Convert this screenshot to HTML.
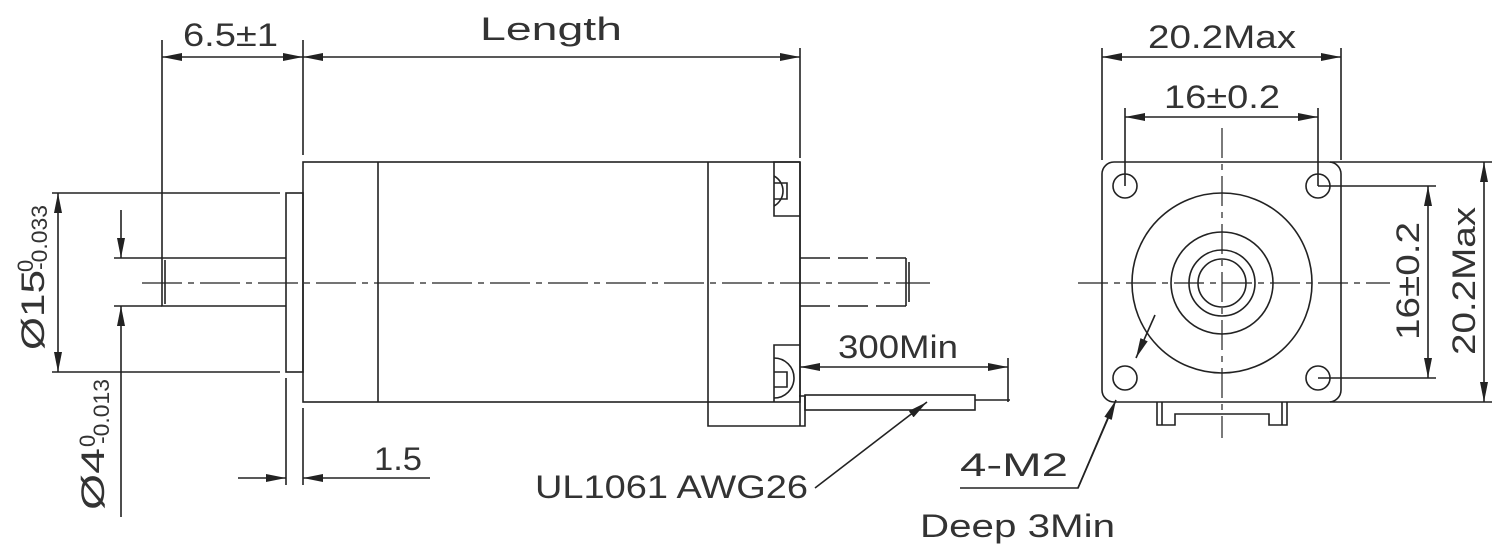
<!DOCTYPE html>
<html><head><meta charset="utf-8"><style>html,body{margin:0;padding:0;background:#fff}svg{display:block}</style></head><body>
<svg width="1500" height="559" viewBox="0 0 1500 559" xmlns="http://www.w3.org/2000/svg">
<defs>
<marker id="a" viewBox="0 0 20 8" refX="20" refY="4" markerWidth="20" markerHeight="8" markerUnits="userSpaceOnUse" orient="auto-start-reverse"><path d="M0,0 L20,4 L0,8 z" fill="#222"/></marker>
</defs>
<g stroke="#222" stroke-width="1.6" fill="none">
<!-- left view body -->
<rect x="303" y="162" width="497" height="240"/>
<line x1="378" y1="162" x2="378" y2="402"/>
<polyline points="708,162 708,426 805,426 805,396 799,396"/>
<line x1="800" y1="162" x2="800" y2="426"/>
<!-- screw pockets -->
<path d="M800,162 L774,162 L774,216 L800,216"/>
<path d="M774,176 A17,17 0 0 1 774,206 M774,183 L787,183 L787,199 L774,199"/>
<path d="M800,345 L774,345 L774,402"/>
<path d="M774,358 A17,17 0 0 1 774,398 M774,372 L787,372 L787,387 L774,387"/>
<!-- flange -->
<rect x="286" y="193" width="17" height="179"/>
<!-- shaft -->
<polyline points="286,258 162,258 162,306 286,306"/>
<line x1="165" y1="260" x2="165" y2="304"/>
<!-- rear shaft dashed -->
<g stroke-dasharray="30,8">
<line x1="800" y1="258" x2="906" y2="258"/>
<line x1="800" y1="306" x2="906" y2="306"/>
</g>
<path d="M906,258 L906,306 M909,262 L909,302"/>
<!-- centerline -->
<line x1="142" y1="283" x2="930" y2="283" stroke-dasharray="40,6,6,6" stroke-width="1.2"/>
<!-- cable -->
<rect x="805" y="395" width="170" height="15"/>
<line x1="975" y1="400" x2="1010" y2="400"/>
<line x1="1008" y1="358" x2="1008" y2="402"/>
<line x1="800" y1="367" x2="1008" y2="367" marker-start="url(#a)" marker-end="url(#a)"/>
<!-- top dims -->
<line x1="162" y1="40" x2="162" y2="258"/>
<line x1="303" y1="40" x2="303" y2="155"/>
<line x1="800" y1="48" x2="800" y2="158"/>
<line x1="162" y1="57" x2="303" y2="57" marker-start="url(#a)" marker-end="url(#a)"/>
<line x1="303" y1="57" x2="800" y2="57" marker-start="url(#a)" marker-end="url(#a)"/>
<!-- Ø15 -->
<line x1="52" y1="193" x2="280" y2="193"/>
<line x1="52" y1="372" x2="280" y2="372"/>
<line x1="58" y1="193" x2="58" y2="372" marker-start="url(#a)" marker-end="url(#a)"/>
<!-- Ø4 -->
<line x1="114" y1="258" x2="162" y2="258"/>
<line x1="114" y1="306" x2="162" y2="306"/>
<line x1="121" y1="210" x2="121" y2="258" marker-end="url(#a)"/>
<line x1="121" y1="517" x2="121" y2="306" marker-end="url(#a)"/>
<!-- 1.5 -->
<line x1="286" y1="378" x2="286" y2="485"/>
<line x1="303" y1="408" x2="303" y2="485"/>
<line x1="238" y1="478" x2="286" y2="478" marker-end="url(#a)"/>
<line x1="430" y1="478" x2="303" y2="478" marker-end="url(#a)"/>
<!-- UL leader -->
<line x1="815" y1="488" x2="927" y2="402" marker-end="url(#a)"/>
<!-- right view -->
<rect x="1102" y="162" width="239" height="240" rx="12"/>
<circle cx="1125" cy="186" r="12"/><circle cx="1318" cy="186" r="12"/>
<circle cx="1125" cy="378" r="12"/><circle cx="1318" cy="378" r="12"/>
<circle cx="1222" cy="283" r="90"/><circle cx="1222" cy="283" r="51"/>
<circle cx="1222" cy="283" r="33"/><circle cx="1222" cy="283" r="24"/>
<path d="M1157,402 L1157,425 L1175,425 L1175,414 L1269,414 L1269,425 L1287,425 L1287,402 M1162,402 L1162,425 M1282,402 L1282,425"/>
<g stroke-dasharray="30,6,6,6" stroke-width="1.2">
<line x1="1078" y1="283" x2="1390" y2="283"/>
<line x1="1222" y1="128" x2="1222" y2="438"/>
</g>
<!-- right dims -->
<line x1="1102" y1="48" x2="1102" y2="160"/>
<line x1="1341" y1="48" x2="1341" y2="160"/>
<line x1="1102" y1="57" x2="1341" y2="57" marker-start="url(#a)" marker-end="url(#a)"/>
<line x1="1125" y1="108" x2="1125" y2="186"/>
<line x1="1318" y1="108" x2="1318" y2="186"/>
<line x1="1125" y1="117" x2="1318" y2="117" marker-start="url(#a)" marker-end="url(#a)"/>
<line x1="1318" y1="186" x2="1436" y2="186"/>
<line x1="1318" y1="378" x2="1436" y2="378"/>
<line x1="1428" y1="186" x2="1428" y2="378" marker-start="url(#a)" marker-end="url(#a)"/>
<line x1="1330" y1="162" x2="1492" y2="162"/>
<line x1="1330" y1="402" x2="1492" y2="402"/>
<line x1="1484" y1="162" x2="1484" y2="402" marker-start="url(#a)" marker-end="url(#a)"/>
<!-- 4-M2 leader -->
<polyline points="960,488 1078,488 1110,413"/>
<line x1="1078" y1="488" x2="1116" y2="400" marker-end="url(#a)"/>
<line x1="1155" y1="315" x2="1136" y2="358" marker-end="url(#a)"/>
</g>
<g font-family="Liberation Sans, sans-serif" font-size="32" fill="#333" lengthAdjust="spacingAndGlyphs">
<text x="183" y="46" textLength="95" lengthAdjust="spacingAndGlyphs">6.5±1</text>
<text x="480" y="40" textLength="142" lengthAdjust="spacingAndGlyphs">Length</text>
<text x="838" y="358" textLength="120" lengthAdjust="spacingAndGlyphs">300Min</text>
<text x="374" y="470" textLength="48" lengthAdjust="spacingAndGlyphs">1.5</text>
<text x="535" y="498" textLength="273" lengthAdjust="spacingAndGlyphs">UL1061 AWG26</text>
<text x="1148" y="48" textLength="148" lengthAdjust="spacingAndGlyphs">20.2Max</text>
<text x="1164" y="108" textLength="116" lengthAdjust="spacingAndGlyphs">16±0.2</text>
<text x="960" y="476" textLength="108" lengthAdjust="spacingAndGlyphs">4-M2</text>
<text x="920" y="537" textLength="195" lengthAdjust="spacingAndGlyphs">Deep 3Min</text>
<text transform="translate(1419,340) rotate(-90)" textLength="118" lengthAdjust="spacingAndGlyphs">16±0.2</text>
<text transform="translate(1475,355) rotate(-90)" textLength="148" lengthAdjust="spacingAndGlyphs">20.2Max</text>
<text transform="translate(44,350) rotate(-90)" textLength="80" lengthAdjust="spacingAndGlyphs">Ø15</text>
<text transform="translate(33,272) rotate(-90)" font-size="22">0</text>
<text transform="translate(47,270) rotate(-90)" font-size="22" textLength="65" lengthAdjust="spacingAndGlyphs">-0.033</text>
<text transform="translate(104,510) rotate(-90)" textLength="62" lengthAdjust="spacingAndGlyphs">Ø4</text>
<text transform="translate(95,447) rotate(-90)" font-size="22">0</text>
<text transform="translate(109,444) rotate(-90)" font-size="22" textLength="65" lengthAdjust="spacingAndGlyphs">-0.013</text>
</g>
</svg>
</body></html>
